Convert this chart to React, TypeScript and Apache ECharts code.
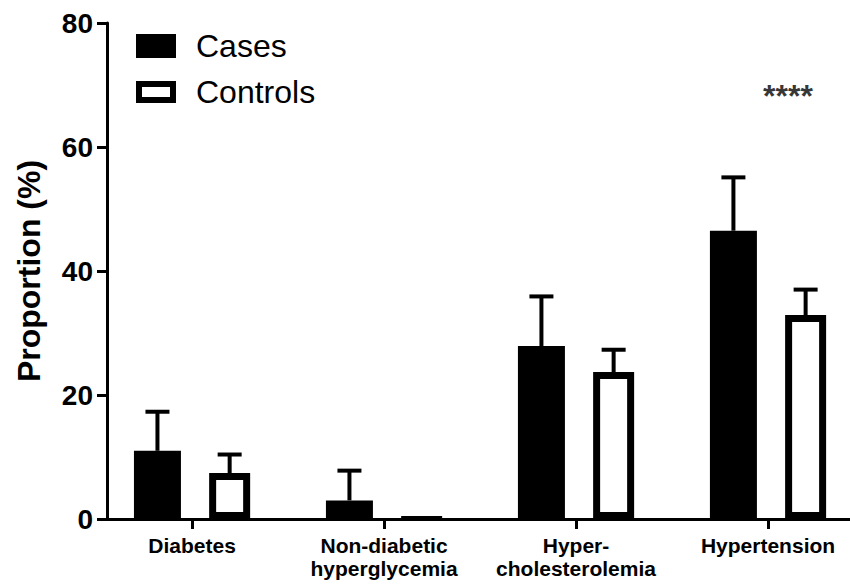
import React, { useEffect, useRef } from "react";
import * as echarts from "echarts";

const categories = ["Diabetes", "Non-diabetic\nhyperglycemia", "Hyper-\ncholesterolemia", "Hypertension"];
const casesMean = [11.0, 3.0, 27.9, 46.5];
const casesUpper = [17.3, 7.8, 35.9, 55.1];
const controlsMean = [7.4, 0.5, 23.7, 32.9];
const controlsUpper: (number | null)[] = [10.4, null, 27.3, 37.0];
const significance = ["", "", "", "****"];
const significanceY = 68.2;
const yMin = 0;
const yMax = 80;
const yInterval = 20;

const FONT = "'Liberation Sans', Arial, Helvetica, sans-serif";
const CASES_W = 47;
const CONTROLS_W = 41;
const GAP = 0.6;
// x range in category units (category centres at integers), chosen so the
// categories sit where they do in the reference
const X_MIN = -0.443;
const X_MAX = 3.427;

// replicate ECharts bar layout to put error bars over bar centres
const widthSum = CASES_W * (1 + GAP) + CONTROLS_W * (1 + GAP) - CONTROLS_W * GAP;
const casesOffset = -widthSum / 2 + CASES_W / 2;
const controlsOffset = -widthSum / 2 + CASES_W * (1 + GAP) + CONTROLS_W / 2;

function errRender(offset: number) {
  return (params: any, api: any) => {
    const base = api.coord([api.value(0), api.value(1)]);
    const top = api.coord([api.value(0), api.value(2)]);
    const cx = base[0] + offset;
    const style = { stroke: "#000", lineWidth: 4 };
    return {
      type: "group",
      children: [
        { type: "line", shape: { x1: cx, y1: base[1], x2: cx, y2: top[1] }, style },
        { type: "line", shape: { x1: cx - 12, y1: top[1], x2: cx + 12, y2: top[1] }, style },
      ],
    };
  };
}

export default function App() {
  const ref = useRef<HTMLDivElement>(null);
  useEffect(() => {
    document.body.style.margin = "0";
    if (!ref.current) return;
    const chart = echarts.init(ref.current, undefined, { renderer: "svg" });
    const catIdx = categories.map((_, i) => i);
    const casesErr = casesUpper
      .map((u, i) => [i, casesMean[i], u])
      .filter((d) => d[2] != null);
    const controlsErr = controlsUpper
      .map((u, i) => [i, controlsMean[i], u])
      .filter((d) => d[2] != null);
    const sigData = significance
      .map((s, i) => ({ value: [i, significanceY], name: s }))
      .filter((d) => d.name !== "");

    chart.setOption({
      animation: false,
      backgroundColor: "#fff",
      textStyle: { fontFamily: FONT },
      grid: { left: 107, right: 0, top: 23, bottom: 66, containLabel: false },
      legend: {
        orient: "vertical",
        left: 136,
        top: 29,
        padding: 0,
        itemWidth: 40,
        itemHeight: 24,
        itemGap: 12,
        textStyle: { fontSize: 32, color: "#000", fontFamily: FONT, lineHeight: 34, padding: [0, 0, 0, 15] },
        data: [
          { name: "Cases", icon: "rect", itemStyle: { color: "#000", borderWidth: 0 } },
          {
            name: "Controls",
            icon: "path://M0,0H40V22H0Z M6,6V16H34V6Z",
            itemStyle: { color: "#000", borderWidth: 0 },
          },
        ],
      },
      xAxis: {
        type: "value",
        min: X_MIN,
        max: X_MAX,
        splitLine: { show: false },
        axisLine: { show: true, onZero: false, lineStyle: { color: "#000", width: 3 } },
        axisTick: { show: true, customValues: catIdx, length: 10, lineStyle: { color: "#000", width: 3 } },
        axisLabel: {
          customValues: catIdx,
          formatter: (v: number) => categories[Math.round(v)] ?? "",
          color: "#000",
          fontSize: 21,
          fontWeight: "bold",
          lineHeight: 23,
          margin: 15,
          fontFamily: FONT,
          showMinLabel: true,
          showMaxLabel: true,
        },
      },
      yAxis: {
        type: "value",
        min: yMin,
        max: yMax,
        interval: yInterval,
        name: "Proportion (%)",
        nameLocation: "middle",
        nameGap: 62,
        nameTextStyle: { fontSize: 32, fontWeight: "bold", color: "#000", fontFamily: FONT },
        axisLine: { show: true, onZero: false, lineStyle: { color: "#000", width: 3 } },
        axisTick: { show: true, length: 10, lineStyle: { color: "#000", width: 3 } },
        axisLabel: { color: "#000", fontSize: 28, fontWeight: "bold", margin: 14, fontFamily: FONT },
        splitLine: { show: false },
      },
      series: [
        {
          name: "Cases",
          type: "bar",
          barWidth: CASES_W,
          barGap: GAP * 100 + "%",
          data: casesMean.map((v, i) => [i, v]),
          itemStyle: { color: "#000", borderWidth: 0 },
        },
        {
          name: "Controls",
          type: "bar",
          barWidth: CONTROLS_W,
          barGap: GAP * 100 + "%",
          data: controlsMean.map((v, i) =>
            v < 1
              ? { value: [i, v], itemStyle: { color: "#000", borderColor: "#000", borderWidth: 2 } }
              : [i, v]
          ),
          itemStyle: { color: "#fff", borderColor: "#000", borderWidth: 7 },
        },
        {
          name: "casesErr",
          type: "custom",
          renderItem: errRender(casesOffset),
          data: casesErr,
          z: 5,
        },
        {
          name: "controlsErr",
          type: "custom",
          renderItem: errRender(controlsOffset),
          data: controlsErr,
          z: 5,
        },
        {
          name: "sig",
          type: "scatter",
          symbolSize: 0,
          data: sigData,
          label: {
            show: true,
            position: "inside",
            offset: [20, 0],
            formatter: (p: any) => p.name,
            fontSize: 32,
            fontWeight: "bold",
            color: "#000",
            fontFamily: FONT,
          },
        },
      ],
    });
    return () => chart.dispose();
  }, []);
  return <div ref={ref} style={{ width: 850, height: 585 }} />;
}
